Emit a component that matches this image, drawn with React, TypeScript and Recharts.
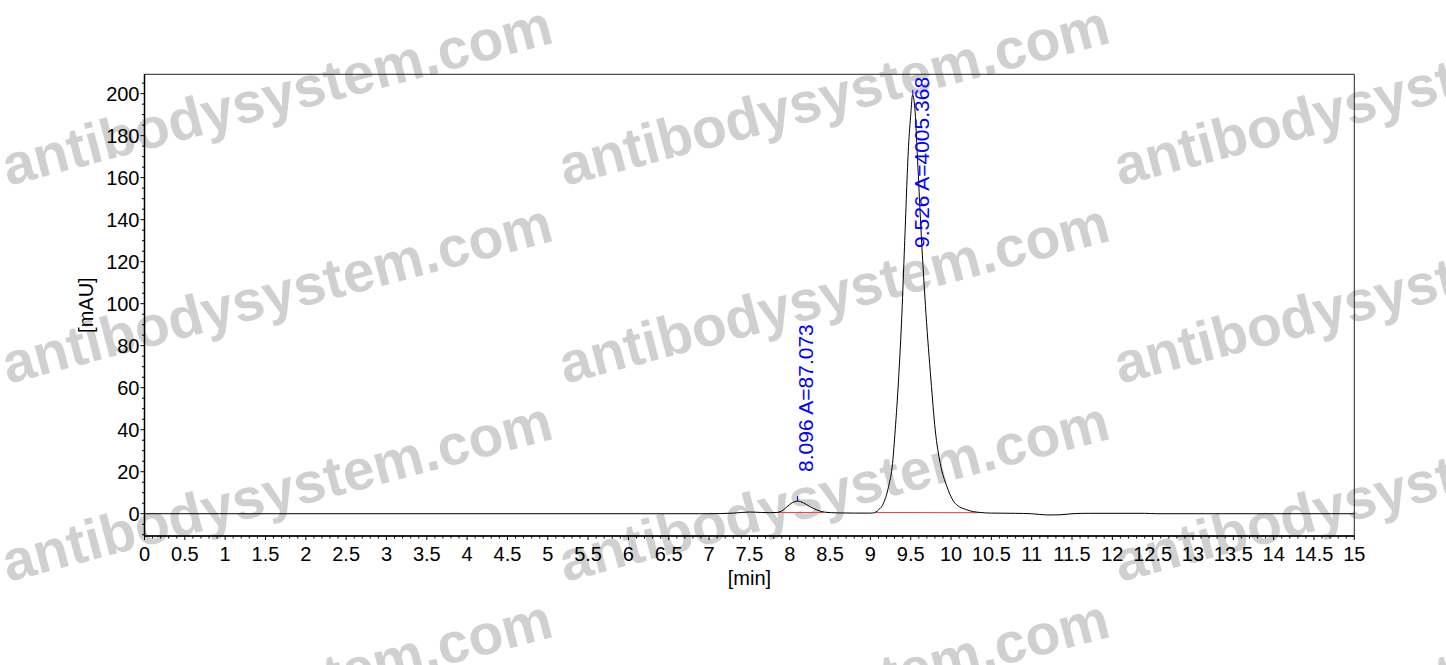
import React from 'react';
import { LineChart, Line, XAxis, YAxis, ReferenceArea, ReferenceLine, ReferenceDot } from 'recharts';

// Chromatogram signal
const retentionTimes = [0, 7.0, 7.3, 7.5, 7.65, 7.75, 7.84, 7.92, 7.965, 8.03, 8.10, 8.17, 8.254, 8.337, 8.44, 8.6, 8.8, 9.0, 9.04, 9.10, 9.163, 9.225, 9.275, 9.308, 9.349, 9.391, 9.423, 9.473, 9.502, 9.523, 9.556, 9.577, 9.639, 9.689, 9.751, 9.804, 9.866, 9.949, 10.05, 10.20, 10.36, 10.5, 10.8, 11.0, 11.2, 11.35, 11.5, 11.7, 12.4, 12.55, 15];
const absorbance = [0, 0, 0.3, 0.8, 0.6, 0.5, 0.6, 1.8, 3.3, 5.2, 6.0, 5.2, 3.3, 1.8, 0.7, 0.4, 0.3, 0.3, 0.4, 1.8, 5, 12.9, 24, 39.9, 63.7, 95.4, 127.1, 174.8, 190.7, 199.4, 190.7, 174.8, 127.1, 95.4, 63.7, 39.9, 24, 12.9, 5, 1.8, 0.6, 0.3, 0.2, 0, -0.6, -0.5, 0, 0.2, 0.2, 0, 0];

// Peak annotations
const peakTimes = [8.096, 9.526];
const peakHeights = [6.0, 199.4];
const peakLabels = ['8.096 A=87.073', '9.526 A=4005.368'];
const peakLabelStart = [19.9, 126.5];

// Integration baselines
const baseStartTime = [7.84, 9.06];
const baseEndTime = [8.42, 10.34];
const baseStartLevel = [0.6, 0.6];
const baseEndLevel = [0.6, 0.5];

// Axis ticks
const xTickLabels = [0, 0.5, 1, 1.5, 2, 2.5, 3, 3.5, 4, 4.5, 5, 5.5, 6, 6.5, 7, 7.5, 8, 8.5, 9, 9.5, 10, 10.5, 11, 11.5, 12, 12.5, 13, 13.5, 14, 14.5, 15];
const yTickLabels = [0, 20, 40, 60, 80, 100, 120, 140, 160, 180, 200];
const xDomain = [0, 15];
const yDomain = [-10.6, 209.2];

const xTicks: number[] = [];
for (let i = 0; i <= 150; i++) xTicks.push(Math.round(i) / 10);
const yTicks: number[] = [];
for (let v = -10; v <= 205; v += 5) yTicks.push(v);

const data = retentionTimes.map((t, i) => ({ t, v: absorbance[i] }));

const FONT = '"Liberation Sans", Arial, sans-serif';

const isMajorX = (v: number) => xTickLabels.some((m) => Math.abs(m - v) < 1e-6);
const isMajorY = (v: number) => yTickLabels.some((m) => Math.abs(m - v) < 1e-6);

const XTick = (props: any) => {
  const { x, y, payload } = props;
  const major = isMajorX(payload.value);
  return (
    <g>
      <line x1={x} x2={x} y1={y} y2={y + (major ? 4 : 2.5)} stroke="#000" strokeWidth={1} />
      {major && (
        <text x={x} y={y + 25} textAnchor="middle" fontSize={20} fontFamily={FONT} fill="#000">
          {String(payload.value)}
        </text>
      )}
    </g>
  );
};

const YTick = (props: any) => {
  const { x, y, payload } = props;
  const major = isMajorY(payload.value);
  return (
    <g>
      <line x1={x} x2={x - (major ? 4 : 2.5)} y1={y} y2={y} stroke="#000" strokeWidth={1} />
      {major && (
        <text x={x - 5} y={y + 7.5} textAnchor="end" fontSize={20} fontFamily={FONT} fill="#000">
          {String(payload.value)}
        </text>
      )}
    </g>
  );
};

const wmCols = [8, 565, 1120];
const wmRows = [-9, 186, 384, 582, 780];

const Watermark = () => (
  <svg width={1446} height={665} style={{ position: 'absolute', left: 0, top: 0, pointerEvents: 'none' }}>
    {wmCols.map((cx) =>
      wmRows.map((cy) => (
        <text
          key={`${cx}-${cy}`}
          x={cx}
          y={cy}
          transform={`rotate(-14.7, ${cx}, ${cy})`}
          fontSize={57}
          fontWeight="bold"
          fontFamily={FONT}
          fill="#d0d0d0"
          textLength={566}
          lengthAdjust="spacingAndGlyphs"
        >
          antibodysystem.com
        </text>
      ))
    )}
  </svg>
);

export default function App() {
  return (
    <div style={{ position: 'absolute', left: 0, top: 0, width: 1446, height: 665, background: '#fff' }}>
      <Watermark />
      <div style={{ position: 'absolute', left: 0, top: 0 }}>
        <LineChart width={1446} height={665} data={data} margin={{ top: 74.3, right: 91.7, bottom: 69, left: 64.5 }}>
          <XAxis
            type="number"
            dataKey="t"
            domain={xDomain}
            allowDataOverflow
            ticks={xTicks}
            interval={0}
            tick={<XTick />}
            tickLine={false}
            tickSize={0}
            tickMargin={0}
            height={60}
            axisLine={{ stroke: '#000', strokeWidth: 1.5 }}
            label={{
              content: (p: any) => {
                const vb = p.viewBox || { x: 0, y: 0, width: 0 };
                return (
                  <text x={vb.x + vb.width / 2} y={vb.y + 49} textAnchor="middle" fontSize={20} fontFamily={FONT} fill="#000">
                    [min]
                  </text>
                );
              },
            }}
          />
          <YAxis
            type="number"
            domain={yDomain}
            allowDataOverflow
            ticks={yTicks}
            interval={0}
            tick={<YTick />}
            tickLine={false}
            tickSize={0}
            tickMargin={0}
            width={80}
            axisLine={{ stroke: '#000', strokeWidth: 1.5 }}
            label={{
              content: (p: any) => {
                const vb = p.viewBox || { x: 0, y: 0, height: 0 };
                const lx = vb.x + 28.5;
                const ly = vb.y + vb.height / 2;
                return (
                  <text x={lx} y={ly} transform={`rotate(-90, ${lx}, ${ly})`} textAnchor="middle" fontSize={20} fontFamily={FONT} fill="#000">
                    [mAU]
                  </text>
                );
              },
            }}
          />
          <ReferenceArea
            x1={xDomain[0]}
            x2={xDomain[1]}
            y1={yDomain[0]}
            y2={yDomain[1]}
            fill="none"
            fillOpacity={0}
            stroke="#222"
            strokeWidth={1}
            ifOverflow="visible"
          />
          {baseStartTime.map((s, i) => (
            <ReferenceLine
              key={`bl-${i}`}
              segment={[
                { x: s, y: baseStartLevel[i] },
                { x: baseEndTime[i], y: baseEndLevel[i] },
              ]}
              stroke="#ff3b3b"
              strokeWidth={1}
            />
          ))}
          <Line
            type="monotone"
            dataKey="v"
            stroke="#000"
            strokeWidth={1}
            dot={false}
            isAnimationActive={false}
          />
          {peakTimes.map((t, i) => (
            <ReferenceDot
              key={`apex-${i}`}
              x={t}
              y={peakHeights[i]}
              r={0}
              ifOverflow="visible"
              shape={(p: any) => (
                <line x1={p.cx} x2={p.cx} y1={p.cy - 5} y2={p.cy} stroke="#0000ff" strokeWidth={1} />
              )}
            />
          ))}
          {peakTimes.map((t, i) => (
            <ReferenceDot
              key={`lbl-${i}`}
              x={t}
              y={peakLabelStart[i]}
              r={0}
              ifOverflow="visible"
              shape={(p: any) => {
                const lx = p.cx + 16;
                const ly = p.cy;
                return (
                  <text x={lx} y={ly} transform={`rotate(-90, ${lx}, ${ly})`} textAnchor="start" fontSize={21} fontFamily={FONT} fill="#0000ff">
                    {peakLabels[i]}
                  </text>
                );
              }}
            />
          ))}
        </LineChart>
      </div>
    </div>
  );
}
